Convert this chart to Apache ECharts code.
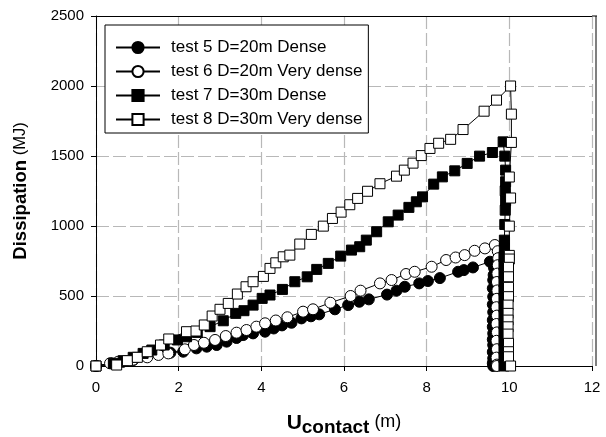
<!DOCTYPE html>
<html><head><meta charset="utf-8">
<script src="https://cdn.jsdelivr.net/npm/echarts@6/dist/echarts.min.js"></script>
<style>html,body{margin:0;padding:0;background:#fff}#c{width:606px;height:437px}</style>
</head><body><div id="c"></div>
<script>
const seriesNames = ['test 5 D=20m Dense', 'test 6 D=20m Very dense', 'test 7 D=30m Dense', 'test 8 D=30m Very dense'];
const xTicks = [0, 2, 4, 6, 8, 10, 12];
const yTicks = [0, 500, 1000, 1500, 2000, 2500];

const test5 = [[0,0],[0.38,19],[0.65,30],[0.9,43],[1.23,79],[1.5,90],[1.8,95],[2.11,102],[2.43,126],[2.68,138],[2.92,150],[3.16,174],[3.4,200],[3.56,221],[3.8,233],[4.09,245],[4.3,268],[4.5,290],[4.73,309],[4.97,340],[5.2,355],[5.4,369],[5.78,405],[6.1,435],[6.37,459],[6.6,476],[7.04,510],[7.27,538],[7.47,566],[7.82,590],[8.03,607],[8.32,628],[8.76,673],[8.9,685],[9.12,704],[9.53,745],
  [9.63,700],[9.62,650],[9.61,614],[9.6,555],[9.61,495],[9.6,440],[9.61,385],[9.6,328],[9.6,280],[9.61,233],[9.6,190],[9.61,150],[9.6,100],[9.61,55],[9.6,20],[9.61,0]];
const test6 = [[0,0],[0.34,19],[0.54,31],[0.9,45],[1.24,62],[1.51,79],[1.75,90],[2.15,119],[2.37,150],[2.61,166],[2.88,186],[3.14,214],[3.4,238],[3.64,257],[3.88,281],[4.09,305],[4.35,325],[4.63,348],[5.01,388],[5.25,405],[5.67,452],[6.16,500],[6.4,538],[6.87,590],[7.15,614],[7.5,657],[7.71,673],[8.12,709],[8.47,757],[8.7,775],[8.92,792],[9.16,823],[9.41,840],[9.65,864],
  [9.72,820],[9.73,770],[9.72,720],[9.71,660],[9.7,600],[9.71,540],[9.7,480],[9.69,420],[9.7,360],[9.69,300],[9.7,240],[9.69,180],[9.7,120],[9.69,60],[9.7,10],[9.7,0]];
const test7 = [[0,0],[0.42,19],[0.66,38],[0.9,62],[1.14,90],[1.35,114],[1.65,150],[1.97,186],[2.19,209],[2.45,240],[2.76,281],[3.08,323],[3.38,376],[3.58,395],[3.8,435],[4.02,483],[4.21,507],[4.51,547],[4.81,602],[5.11,637],[5.34,690],[5.62,733],[5.92,785],[6.18,828],[6.38,852],[6.54,899],[6.79,959],[7.07,1030],[7.31,1078],[7.57,1133],[7.75,1173],[7.9,1208],[8.17,1299],[8.38,1351],[8.68,1394],[8.98,1447],[9.28,1499],[9.59,1525],[9.85,1601],
  [9.89,1499],[9.91,1399],[9.91,1316],[9.9,1251],[9.91,1180],[9.9,1113],[9.89,1011],[9.88,899],[9.88,840],[9.87,780],[9.87,720],[9.87,660],[9.87,600],[9.87,540],[9.87,480],[9.87,420],[9.87,360],[9.87,300],[9.87,240],[9.87,180],[9.87,120],[9.87,60],[9.87,0]];
const test8 = [[0,0],[0.5,7],[0.76,38],[1.0,62],[1.24,102],[1.56,150],[1.76,193],[2.19,245],[2.42,250],[2.62,293],[2.81,357],[3.0,405],[3.2,447],[3.42,514],[3.63,566],[3.8,602],[4.05,640],[4.21,697],[4.35,737],[4.53,780],[4.69,792],[4.93,871],[5.21,940],[5.5,999],[5.72,1054],[5.93,1099],[6.14,1152],[6.33,1197],[6.57,1248],[6.87,1302],[7.27,1356],[7.46,1399],[7.67,1449],[7.87,1503],[8.08,1554],[8.29,1591],[8.58,1619],[8.88,1689],[9.39,1820],[9.69,1899],[10.03,2000],
  [10.05,1799],[10.05,1597],[10.0,1350],[10.03,1200],[10.0,999],[10.0,790],[10.0,764],[9.98,705],[9.98,637],[9.98,562],[9.98,495],[9.97,435],[9.97,376],[9.97,328],[9.97,280],[9.97,228],[9.98,162],[9.98,102],[9.98,66],[10.03,0]];

const FONT = "'Liberation Sans', Arial, sans-serif";
const chart = echarts.init(document.getElementById('c'), null, {renderer: 'canvas'});

function mkSeries(name, data, symbol, fill, size) {
  return {
    name: name, type: 'line', data: data,
    symbol: symbol, symbolSize: size, showSymbol: true,
    lineStyle: {color: '#000', width: 1},
    itemStyle: {color: fill, borderColor: '#000', borderWidth: 1},
    emphasis: {disabled: true},
    animation: false, clip: false
  };
}

const dashed = {show: true, lineStyle: {color: '#b8b8b8', type: [13, 4], width: 1.2}};

chart.setOption({
  backgroundColor: '#fff',
  animation: false,
  grid: {left: 96, right: 14, top: 16, bottom: 71, containLabel: false, outerBoundsMode: 'none'},
  legend: {
    orient: 'vertical', left: 105, top: 25,
    padding: [14, 6, 5, 10], itemGap: 7, itemWidth: 44, itemHeight: 14,
    backgroundColor: '#fff', borderColor: '#000', borderWidth: 1,
    textStyle: {fontFamily: FONT, fontSize: 17, lineHeight: 16, color: '#000', padding: [0, 0, 0, 6]},
    data: seriesNames
  },
  xAxis: [{
    type: 'value', min: 0, max: 12, interval: 2,
    axisLine: {show: true, lineStyle: {color: '#000', width: 1}},
    axisTick: {show: true, inside: false, length: 5, lineStyle: {color: '#000'}},
    axisLabel: {fontFamily: FONT, fontSize: 15, color: '#000', margin: 14},
    splitLine: dashed,
    name: '{b|U}{s|contact}{p| (m)}', nameLocation: 'middle', nameGap: 44,
    nameTextStyle: {rich: {
      b: {fontFamily: FONT, fontSize: 21, fontWeight: 'bold', color: '#000'},
      s: {fontFamily: FONT, fontSize: 19, fontWeight: 'bold', color: '#000', padding: [8, 0, 0, 0]},
      p: {fontFamily: FONT, fontSize: 18, color: '#000', padding: [0, 0, 2, 0]}
    }}
  }, {
    type: 'value', min: 0, max: 12, position: 'top',
    axisLine: {show: true, lineStyle: {color: '#000', width: 1}},
    axisTick: {show: false}, axisLabel: {show: false}, splitLine: {show: false}
  }],
  yAxis: [{
    type: 'value', min: 0, max: 2500, interval: 500,
    axisLine: {show: true, lineStyle: {color: '#000', width: 1}},
    axisTick: {show: true, inside: false, length: 5, lineStyle: {color: '#000'}},
    axisLabel: {fontFamily: FONT, fontSize: 15, color: '#000', margin: 12, formatter: function (v) { return String(v); }},
    splitLine: dashed,
    name: '{b|Dissipation}{n| (MJ)}', nameLocation: 'middle', nameGap: 66, nameRotate: 90,
    nameTextStyle: {rich: {
      b: {fontFamily: FONT, fontSize: 18.5, fontWeight: 'bold', color: '#000'},
      n: {fontFamily: FONT, fontSize: 16.5, color: '#000'}
    }}
  }],
  graphic: [{
    type: 'line', shape: {x1: 596, y1: 16, x2: 596, y2: 366},
    style: {stroke: '#808080', lineWidth: 2}, silent: true
  }, {
    type: 'line', shape: {x1: 592, y1: 16, x2: 597, y2: 16},
    style: {stroke: '#000', lineWidth: 1}, silent: true
  }],
  series: [
    mkSeries(seriesNames[0], test5, 'circle', '#000', 11),
    mkSeries(seriesNames[1], test6, 'circle', '#fff', 11),
    mkSeries(seriesNames[2], test7, 'rect', '#000', 10),
    mkSeries(seriesNames[3], test8, 'rect', '#fff', 10)
  ]
});
</script></body></html>
